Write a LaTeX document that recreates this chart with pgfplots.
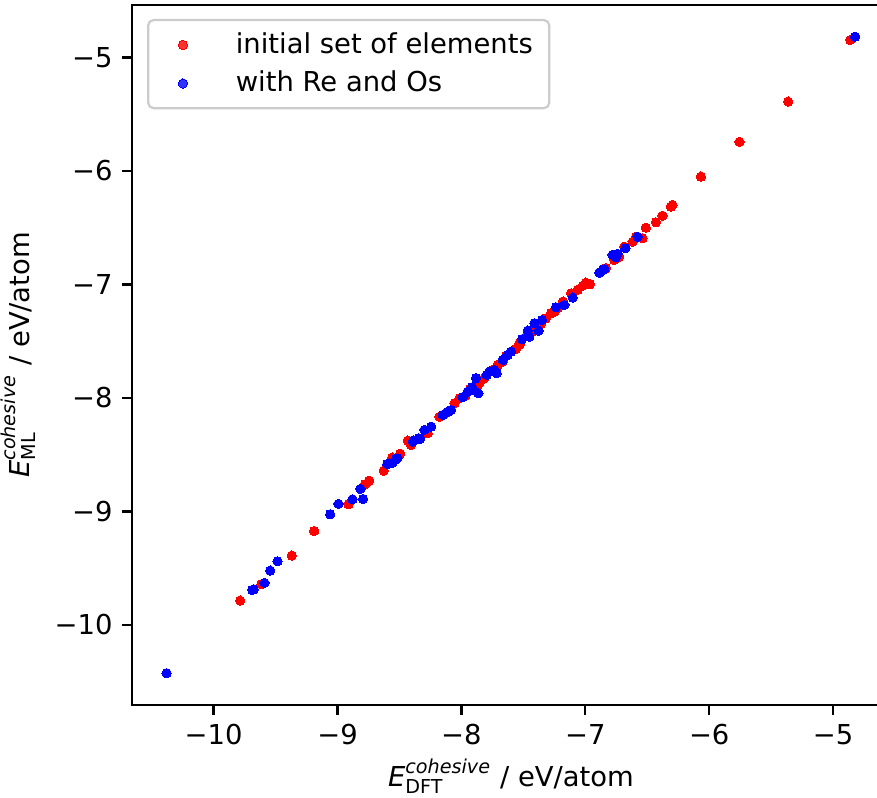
\documentclass[border=0pt]{standalone}
\usepackage{amsmath}
\usepackage{fontspec}
\setmainfont{DejaVu Sans}
\usepackage{pgfplots}
\pgfplotsset{compat=1.18}
\pgfplotstableread{
x y
-9.785 -9.786
-9.615 -9.641
-9.369 -9.389
-9.188 -9.172
-8.911 -8.937
-8.777 -8.760
-8.744 -8.729
-8.627 -8.641
-8.559 -8.526
-8.494 -8.491
-8.433 -8.376
-8.406 -8.414
-8.272 -8.311
-8.177 -8.165
-8.120 -8.130
-8.056 -8.047
-8.016 -8.003
-7.968 -7.980
-7.930 -7.920
-7.871 -7.894
-7.850 -7.860
-7.815 -7.826
-7.748 -7.753
-7.707 -7.709
-7.667 -7.680
-7.640 -7.630
-7.599 -7.592
-7.560 -7.570
-7.532 -7.533
-7.532 -7.518
-7.465 -7.445
-7.430 -7.420
-7.398 -7.372
-7.360 -7.350
-7.317 -7.298
-7.277 -7.254
-7.250 -7.240
-7.223 -7.210
-7.180 -7.150
-7.115 -7.078
-7.062 -7.048
-7.020 -7.010
-6.995 -6.984
-6.962 -6.998
-6.833 -6.857
-6.766 -6.784
-6.726 -6.755
-6.685 -6.667
-6.618 -6.623
-6.591 -6.579
-6.538 -6.593
-6.511 -6.500
-6.430 -6.452
-6.377 -6.394
-6.309 -6.315
-6.296 -6.300
-6.067 -6.050
-5.756 -5.744
-5.363 -5.389
-4.861 -4.846
}\redtab
\pgfplotstableread{
x y
-10.379 -10.426
-9.688 -9.692
-9.675 -9.686
-9.589 -9.630
-9.543 -9.521
-9.484 -9.439
-9.059 -9.025
-8.992 -8.934
-8.879 -8.893
-8.793 -8.890
-8.815 -8.802
-8.599 -8.584
-8.581 -8.575
-8.554 -8.570
-8.527 -8.540
-8.516 -8.531
-8.387 -8.376
-8.344 -8.355
-8.393 -8.385
-8.333 -8.361
-8.298 -8.282
-8.244 -8.253
-8.151 -8.150
-8.110 -8.121
-8.083 -8.106
-7.990 -7.994
-7.949 -7.944
-7.914 -7.906
-7.903 -7.930
-7.863 -7.959
-7.882 -7.826
-7.796 -7.797
-7.774 -7.768
-7.734 -7.753
-7.715 -7.782
-7.667 -7.665
-7.627 -7.621
-7.599 -7.592
-7.511 -7.483
-7.465 -7.407
-7.452 -7.460
-7.411 -7.342
-7.377 -7.407
-7.349 -7.313
-7.237 -7.201
-7.169 -7.181
-7.102 -7.116
-6.887 -6.896
-6.860 -6.872
-6.847 -6.866
-6.780 -6.740
-6.753 -6.761
-6.740 -6.731
-6.677 -6.681
-6.578 -6.579
-4.823 -4.817
}\bluetab
\begin{document}
\begin{tikzpicture}
\begin{axis}[
  scale only axis,
  width=276.6pt, height=255.5pt,
  xmin=-10.658, xmax=-4.542,
  ymin=-10.705, ymax=-4.537,
  axis line style={line width=0.8pt},
  tick style={line width=0.8pt, black},
  major tick length=3.6pt,
  tick align=outside,
  tick pos=left,
  xtick={-10,-9,-8,-7,-6,-5},
  ytick={-10,-9,-8,-7,-6,-5},
  xticklabels={−10,−9,−8,−7,−6,−5},
  yticklabels={−10,−9,−8,−7,−6,−5},
  ticklabel style={font=\fontsize{10}{12}\selectfont},
  label style={font=\fontsize{10}{12}\selectfont},
  xlabel={$\textit{E}^{\textit{cohesive}}_{\text{DFT}}$ / eV/atom},
  ylabel={$\textit{E}^{\textit{cohesive}}_{\text{ML}}$ / eV/atom},
  xlabel style={inner sep=0pt, yshift=-1.5pt},
  legend style={at={(0.0198,0.98)}, anchor=north west, draw=white!80!black,
    line width=0.8pt, rounded corners=2pt, fill=white, fill opacity=0.8, text opacity=1,
    font=\fontsize{10}{12}\selectfont, inner xsep=4pt, inner ysep=2.5pt, row sep=1pt},
  legend cell align=left,
  legend image code/.code={\path[draw=none,fill=none] (0pt,0pt) -- (26pt,0pt); \draw[only marks] plot coordinates {(8.7pt,0pt)};},
]
\addplot[only marks, mark=*, mark size=1.7pt, color=red, mark options={draw=red, fill=red, line width=0pt}] table[x=x,y=y]{\redtab};
\addlegendentry{initial set of elements}
\addplot[only marks, mark=*, mark size=1.7pt, color=blue, mark options={draw=blue, fill=blue, line width=0pt}] table[x=x,y=y]{\bluetab};
\addlegendentry{with Re and Os}
\end{axis}
\pgfresetboundingbox
\useasboundingbox (-48.2pt,-33.9pt) rectangle (271.9pt,257.3pt);
\end{tikzpicture}
\end{document}
